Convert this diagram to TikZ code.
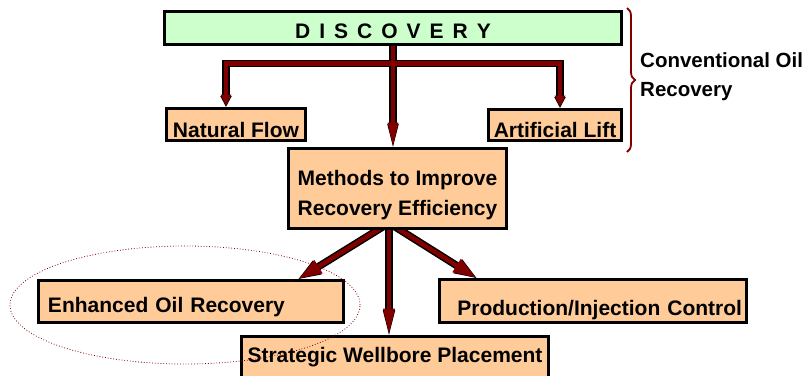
\documentclass[tikz,border=0pt]{standalone}
\usepackage{fontspec}
\setmainfont{Liberation Sans}
\usepackage{xcolor}
\usepackage{tikz}
\usetikzlibrary{positioning,calc,arrows.meta,decorations.pathreplacing,backgrounds}

\definecolor{discgreen}{HTML}{CCFFCC}
\definecolor{boxorange}{HTML}{FFCC99}
\definecolor{pipered}{HTML}{800000}

\newcommand{\letgap}{\hspace{9bp}}

\begin{document}
\begin{tikzpicture}[x=1bp, y=-1bp,
    box/.style={draw, line width=3bp, fill=boxorange, inner sep=2bp, font=\bfseries\fontsize{21bp}{30bp}\selectfont},
    outer/.style 2 args={draw=black, line width=7.5bp, -{Triangle[length=#1, width=#2, line width=2bp]}},
    inner/.style 2 args={draw=pipered, line width=4.5bp, shorten >=1.5bp, -{Triangle[length=#1, width=#2, line width=0bp]}}]
    \useasboundingbox (0,0) rectangle (809,375);

    \node [box, fill=discgreen, minimum width=457bp, minimum height=33bp, text height=20.6bp, text depth=0bp] (disc) at (393,28) {D\letgap I\letgap S\letgap C\letgap O\letgap V\letgap E\letgap R\letgap Y};
    \node [box, minimum width=139bp, minimum height=32bp, text height=25bp, text depth=0bp] (natflow) at (236,124.5) {Natural Flow};
    \node [box, minimum width=133bp, minimum height=31bp, text height=24bp, text depth=0bp] (artlift) at (555,125) {Artificial Lift};
    \node [box, minimum width=218bp, minimum height=80bp, align=center, text height=53bp, text depth=0bp] (methods) at (397.5,188.5) {Methods to Improve\\Recovery Efficiency};
    \node [box, minimum height=42bp, text width=286bp, align=left, inner xsep=9.5bp, text height=21bp, text depth=0bp] (enh) at (191,301.5) {Enhanced Oil Recovery};
    \node [box, minimum height=43bp, text width=298bp, align=right, inner xsep=4.5bp, text height=28bp, text depth=0bp] (prod) at (593,301) {Production/Injection Control};
    \node [box, minimum width=307bp, minimum height=60bp, text height=15bp, text depth=24bp] (strat) at (395,366.5) {Strategic Wellbore Placement};

    \coordinate (split) at (393,63.5);
    \coordinate (hub) at (389,223);

    \begin{scope}[on background layer]
        \foreach \ink in {outer,inner} {
            \draw [\ink={11bp}{11bp}] (split) -| ($(natflow.north)+(-10,0)$);
            \draw [\ink={11bp}{11bp}] (split) -| ($(artlift.north)+(5,0)$);
            \draw [\ink={23bp}{11bp}] (disc.south) -- (disc.south |- methods.north);
            \draw [\ink={22bp}{16bp}] (hub) -- ($(enh.north east)+(-46.5,0)$);
            \draw [\ink={25bp}{12bp}] (hub) -- (hub |- strat.north);
            \draw [\ink={22bp}{16bp}] (hub) -- ($(prod.north west)+(38.5,0)$);
        }
    \end{scope}

    \draw [pipered, line width=1.8bp, decorate, decoration={brace, amplitude=8bp}] (627,8) -- (627,152);
    \node [anchor=west, align=left, inner sep=0pt, font=\bfseries\fontsize{20.5bp}{29bp}\selectfont] (conv) at (640,77) {Conventional Oil\\Recovery};

    \draw [pipered, dotted, line width=0.8bp] ($(enh)+(-6,3.5)$) ellipse [x radius=175bp, y radius=59bp];
\end{tikzpicture}
\end{document}
